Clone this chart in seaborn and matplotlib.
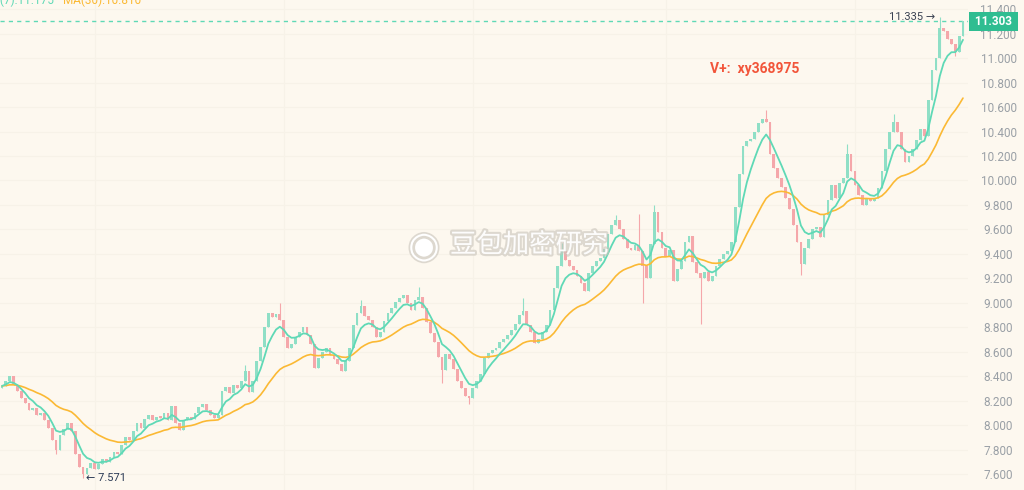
#!/usr/bin/env python3
"""
Candlestick chart with MA(7) / MA(30) overlays, trading-terminal style.
"""

import matplotlib

matplotlib.use("Agg")
import matplotlib.patheffects as pe  # noqa: E402
import matplotlib.pyplot as plt  # noqa: E402
import matplotlib.transforms as mtransforms  # noqa: E402
import numpy as np  # noqa: E402
import pandas as pd  # noqa: E402
import seaborn as sns  # noqa: E402

# closing prices, one per candle
closes = [
    8.32, 8.36, 8.40, 8.33, 8.28, 8.22, 8.18, 8.12, 8.14, 8.08,
    8.10, 8.04, 7.98, 7.88, 7.80, 7.92, 7.97, 8.02, 7.95, 7.76,
    7.66, 7.60, 7.65, 7.69, 7.64, 7.68, 7.72, 7.70, 7.74, 7.78,
    7.76, 7.84, 7.90, 7.88, 7.95, 8.02, 7.98, 8.05, 8.08, 8.04,
    8.07, 8.06, 8.10, 8.04, 8.16, 8.02, 7.96, 8.04, 8.07, 8.05,
    8.10, 8.15, 8.17, 8.12, 8.08, 8.06, 8.08, 8.28, 8.31, 8.26,
    8.33, 8.30, 8.36, 8.44, 8.27, 8.36, 8.52, 8.64, 8.80, 8.92,
    8.88, 8.91, 8.86, 8.72, 8.63, 8.66, 8.72, 8.76, 8.80, 8.74,
    8.66, 8.47, 8.55, 8.60, 8.63, 8.57, 8.54, 8.50, 8.44, 8.52,
    8.63, 8.82, 8.92, 8.97, 8.89, 8.86, 8.80, 8.72, 8.76, 8.85,
    8.92, 8.96, 9.01, 9.04, 9.06, 9.00, 8.94, 9.02, 9.05, 8.96,
    8.84, 8.75, 8.68, 8.56, 8.45, 8.58, 8.54, 8.46, 8.36, 8.30,
    8.24, 8.22, 8.30, 8.36, 8.42, 8.55, 8.59, 8.61, 8.63, 8.68,
    8.70, 8.74, 8.78, 8.83, 8.90, 8.93, 8.82, 8.76, 8.67, 8.70,
    8.76, 8.82, 8.94, 9.12, 9.30, 9.42, 9.35, 9.30, 9.27, 9.22,
    9.16, 9.10, 9.24, 9.30, 9.34, 9.37, 9.44, 9.56, 9.64, 9.68,
    9.60, 9.52, 9.45, 9.43, 9.47, 9.42, 9.30, 9.20, 9.48, 9.74,
    9.58, 9.45, 9.38, 9.43, 9.18, 9.28, 9.34, 9.50, 9.55, 9.33,
    9.24, 9.20, 9.25, 9.18, 9.22, 9.30, 9.36, 9.40, 9.42, 9.50,
    9.78, 10.05, 10.28, 10.32, 10.34, 10.40, 10.47, 10.50, 10.48, 10.22,
    10.10, 10.02, 9.95, 9.86, 9.77, 9.64, 9.50, 9.32, 9.45, 9.52,
    9.60, 9.62, 9.54, 9.72, 9.84, 9.96, 9.86, 9.98, 10.02, 10.22,
    10.08, 9.96, 9.88, 9.80, 9.86, 9.83, 9.86, 9.94, 10.08, 10.26,
    10.40, 10.48, 10.40, 10.26, 10.15, 10.20, 10.26, 10.33, 10.42, 10.36,
    10.66, 10.90, 11.00, 11.25, 11.22, 11.16, 11.12, 11.05, 11.18, 11.303,
]
first_open = 8.30

# candles whose wicks reach clearly past the body
wick_high = {63: 8.49, 72: 9.00, 93: 9.02, 108: 9.13, 135: 9.04, 145: 9.49,
             159: 9.72, 165: 9.73, 169: 9.80, 198: 10.58, 219: 10.30,
             231: 10.54, 243: 11.335}
wick_low = {14: 7.76, 21: 7.571, 114: 8.34, 121: 8.17, 166: 9.00,
            181: 8.83, 207: 9.23, 247: 11.02}

y_ticks = [7.6, 7.8, 8.0, 8.2, 8.4, 8.6, 8.8, 9.0, 9.2, 9.4, 9.6, 9.8,
           10.0, 10.2, 10.4, 10.6, 10.8, 11.0, 11.2, 11.4]

last_price = 11.303
high_label = "11.335"
low_label = "7.571"
ma7_label = "MA(7):11.175"
ma30_label = "MA(30):10.810"
contact_text = "V+:  xy368975"
watermark = "豆包加密研究"

BG = "#fdf8ef"
UP = "#8fdfc6"
DOWN = "#f5a7aa"
MA7_COLOR = "#5fd9b6"
MA30_COLOR = "#fbb934"
PRICE_COLOR = "#2fbd91"

# the source has ~300 candles on this width, we draw 250, so the
# exponential averages are scaled to cover the same stretch of the chart
SCALE = 250 / 300

sns.set_theme(style="white")
plt.rcParams["font.family"] = ["Roboto", "DejaVu Sans"]

df = pd.DataFrame({"close": closes})
df["idx"] = np.arange(len(df))
df["open"] = df["close"].shift(1).fillna(first_open)
df["high"] = df[["open", "close"]].max(axis=1)
df["low"] = df[["open", "close"]].min(axis=1)
for k, v in wick_high.items():
    df.loc[k, "high"] = v
for k, v in wick_low.items():
    df.loc[k, "low"] = v
df["ma7"] = df["close"].ewm(span=7 * SCALE, adjust=False).mean()
df["ma30"] = df["close"].ewm(span=30 * SCALE, adjust=False).mean()

fig = plt.figure(figsize=(10.24, 4.9), dpi=100, facecolor=BG)
ax = fig.add_axes([0, 0, 968 / 1024, 1])
ax.set_facecolor(BG)

up = df["close"] >= df["open"]
colors = np.where(up, UP, DOWN)
body_low = df[["open", "close"]].min(axis=1)
body_h = (df["close"] - df["open"]).abs().clip(lower=0.012)

ax.vlines(df["idx"], df["low"], df["high"], colors=colors, lw=0.8, zorder=2)
ax.bar(df["idx"], body_h, bottom=body_low, width=0.72, color=colors,
       linewidth=0, zorder=3)

sns.lineplot(data=df, x="idx", y="ma30", color=MA30_COLOR, lw=1.2, ax=ax,
             zorder=4)
sns.lineplot(data=df, x="idx", y="ma7", color=MA7_COLOR, lw=1.3, ax=ax,
             zorder=5)

ax.axhline(last_price, color=MA7_COLOR, lw=1.0, ls=(0, (3, 3)), zorder=1)

ax.set_xlim(-0.52, 250.3)
ax.set_ylim(7.469, 11.476)
ax.set_xticks([24, 73, 122, 172, 221])
ax.set_yticks(y_ticks)
ax.set_yticklabels([f"{t:.3f}" for t in y_ticks])
ax.yaxis.tick_right()
ax.tick_params(axis="y", length=0, pad=22, labelsize=8.5, labelcolor="#9aa0a6")
for lbl in ax.get_yticklabels():
    lbl.set_horizontalalignment("center")
ax.tick_params(axis="x", length=0, labelbottom=False)
ax.grid(True, color="#f7f2e8", lw=0.8)
ax.set_xlabel("")
ax.set_ylabel("")
for s in ax.spines.values():
    s.set_visible(False)

# current price box on the axis
trans = mtransforms.blended_transform_factory(ax.transAxes, ax.transData)
ax.text(1.004, last_price, " 11.303 ", transform=trans, ha="left", va="center",
        color="white", fontsize=8.5, fontweight="bold", clip_on=False,
        bbox=dict(boxstyle="square,pad=0.25", fc=PRICE_COLOR, ec="none"),
        zorder=10)

# high / low markers
hi_idx = max(wick_high, key=wick_high.get)
ax.text(hi_idx - 1.2, wick_high[hi_idx] + 0.005, f"{high_label} \u2192",
        ha="right", va="center", fontsize=8, color="#3b4252")
lo_idx = min(wick_low, key=wick_low.get)
ax.text(lo_idx + 0.8, wick_low[lo_idx], f"\u2190 {low_label}",
        ha="left", va="center", fontsize=8, color="#2b3a55")

ax.text(183.5, 10.91, contact_text, ha="left", va="center", fontsize=10,
        color="#f2553a", fontweight="bold")

# moving-average legend, clipped at the top edge
fig.text(-18 / 1024, 1.0, ma7_label, ha="left", va="center", fontsize=8.5,
         color=MA7_COLOR)
fig.text(63 / 1024, 1.0, ma30_label, ha="left", va="center", fontsize=8.5,
         color=MA30_COLOR)

# watermark
fig.text(450 / 1024, 1 - 245 / 490, watermark, ha="left", va="center",
         fontsize=19, color="white", family=["Noto Sans CJK SC", "DejaVu Sans"],
         alpha=0.95, zorder=20,
         path_effects=[pe.withStroke(linewidth=3, foreground="#c9c4bb", alpha=0.6)])
fig.text(424 / 1024, 1 - 247 / 490, "\u25c9", ha="center", va="center",
         fontsize=26, color="white", zorder=20,
         path_effects=[pe.withStroke(linewidth=2.5, foreground="#c9c4bb", alpha=0.6)])

fig.savefig("out.png", dpi=100, facecolor=BG)
